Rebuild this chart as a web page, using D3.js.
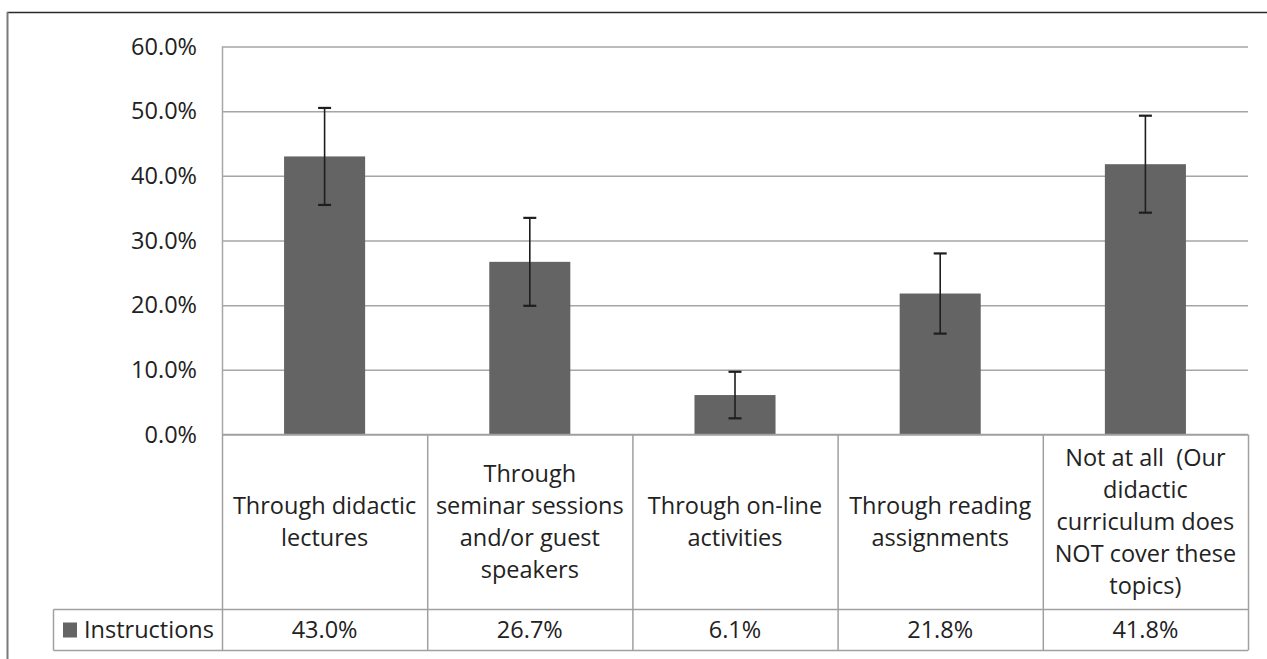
<!DOCTYPE html>
<html>
<head>
<meta charset="utf-8">
<script src="https://cdn.jsdelivr.net/npm/d3@7"></script>
<style>
  html, body { margin: 0; padding: 0; background: #fff; }
  svg { display: block; }
  text { font-family: "Open Sans", Lato, sans-serif; fill: #222; }
</style>
</head>
<body>
<svg id="chart" width="1267" height="659"></svg>
<script>
// ---- data ----
const categories = [
  ["Through didactic", "lectures"],
  ["Through", "seminar sessions", "and/or guest", "speakers"],
  ["Through on-line", "activities"],
  ["Through reading", "assignments"],
  ["Not at all  (Our", "didactic", "curriculum does", "NOT cover these", "topics)"]
];
const seriesName = "Instructions";
const values = [43.0, 26.7, 6.1, 21.8, 41.8];
const errors = [7.5, 6.8, 3.6, 6.2, 7.5];
const yTicks = [0, 10, 20, 30, 40, 50, 60];

// ---- layout ----
const svg = d3.select("#chart");
const fontFamily = "'Open Sans', Lato, sans-serif";
const fontSize = 23.5;
const plotLeft = 222, plotRight = 1248, plotTop = 46.5, plotBottom = 434.5;
const catRowBottom = 609.5, valRowBottom = 650.5, legendLeft = 53.5;

const x = d3.scaleBand().domain(d3.range(values.length)).range([plotLeft, plotRight]).paddingInner(0).paddingOuter(0);
const y = d3.scaleLinear().domain([0, 60]).range([plotBottom, plotTop]);

// outer frame lines
svg.append("line").attr("x1", 7).attr("x2", 1267).attr("y1", 12.5).attr("y2", 12.5)
  .attr("stroke", "#2a2a2a").attr("stroke-width", 1.5);
svg.append("line").attr("x1", 7.5).attr("x2", 7.5).attr("y1", 12).attr("y2", 659)
  .attr("stroke", "#7a7a7a").attr("stroke-width", 2);

// gridlines
const yAxis = d3.axisLeft(y).tickValues(yTicks).tickSize(-(plotRight - plotLeft)).tickFormat(d => d.toFixed(1) + "%");
const gy = svg.append("g").attr("transform", `translate(${plotLeft},0)`).call(yAxis);
gy.select(".domain").remove();
gy.selectAll(".tick line").attr("stroke", "#a6a6a6").attr("stroke-width", 1.5);
gy.selectAll(".tick text").attr("x", -25).attr("font-size", fontSize).attr("fill", "#222")
  .style("font-family", fontFamily);

// vertical axis line
svg.append("line").attr("x1", plotLeft + 0.5).attr("x2", plotLeft + 0.5).attr("y1", plotTop).attr("y2", plotBottom)
  .attr("stroke", "#a6a6a6").attr("stroke-width", 1.5);

// bars
const barW = x.bandwidth() * 0.395;
svg.append("g").selectAll("rect").data(values).join("rect")
  .attr("x", (d, i) => x(i) + x.bandwidth() / 2 - barW / 2)
  .attr("width", barW)
  .attr("y", d => y(d))
  .attr("height", d => y(0) - y(d))
  .attr("fill", "#646464");

// error bars
const eg = svg.append("g").attr("stroke", "#1e1e1e").attr("stroke-width", 1.6);
values.forEach((v, i) => {
  const cx = x(i) + x.bandwidth() / 2;
  const top = y(v + errors[i]), bot = y(v - errors[i]);
  eg.append("line").attr("x1", cx).attr("x2", cx).attr("y1", top).attr("y2", bot);
  eg.append("line").attr("x1", cx - 6.5).attr("x2", cx + 6.5).attr("y1", top).attr("y2", top).attr("stroke-width", 2.2);
  eg.append("line").attr("x1", cx - 6.5).attr("x2", cx + 6.5).attr("y1", bot).attr("y2", bot).attr("stroke-width", 2.2);
});

// data table
const tg = svg.append("g").attr("stroke", "#a0a0a0").attr("stroke-width", 1.5);
tg.append("line").attr("x1", plotLeft).attr("x2", plotRight).attr("y1", plotBottom).attr("y2", plotBottom);
tg.append("line").attr("x1", legendLeft).attr("x2", plotRight).attr("y1", catRowBottom).attr("y2", catRowBottom);
tg.append("line").attr("x1", legendLeft).attr("x2", plotRight).attr("y1", valRowBottom).attr("y2", valRowBottom);
tg.append("line").attr("x1", legendLeft).attr("x2", legendLeft).attr("y1", catRowBottom).attr("y2", valRowBottom);
d3.range(values.length + 1).forEach(i => {
  const xx = i < values.length ? x(i) : plotRight;
  tg.append("line").attr("x1", xx + 0.5).attr("x2", xx + 0.5).attr("y1", plotBottom).attr("y2", valRowBottom);
});

// category labels
const lineH = 32;
const catMid = (plotBottom + catRowBottom) / 2;
categories.forEach((lines, i) => {
  const cx = x(i) + x.bandwidth() / 2;
  const t = svg.append("text").attr("text-anchor", "middle").attr("font-size", fontSize)
    .attr("x", cx).attr("y", catMid - (lines.length - 1) * lineH / 2)
    .style("white-space", "pre");
  lines.forEach((ln, j) => {
    t.append("tspan").attr("x", cx).attr("dy", j === 0 ? "0.35em" : lineH).text(ln);
  });
});

// values row
const valMid = (catRowBottom + valRowBottom) / 2;
svg.append("g").selectAll("text").data(values).join("text")
  .attr("text-anchor", "middle").attr("font-size", fontSize)
  .attr("x", (d, i) => x(i) + x.bandwidth() / 2).attr("y", valMid).attr("dy", "0.35em")
  .text(d => d.toFixed(1) + "%");

// legend key
svg.append("rect").attr("x", 63).attr("y", valMid - 7.5).attr("width", 14).attr("height", 15).attr("fill", "#646464");
svg.append("text").attr("x", 84).attr("y", valMid).attr("dy", "0.35em").attr("font-size", fontSize).text(seriesName);
</script>
</body>
</html>
